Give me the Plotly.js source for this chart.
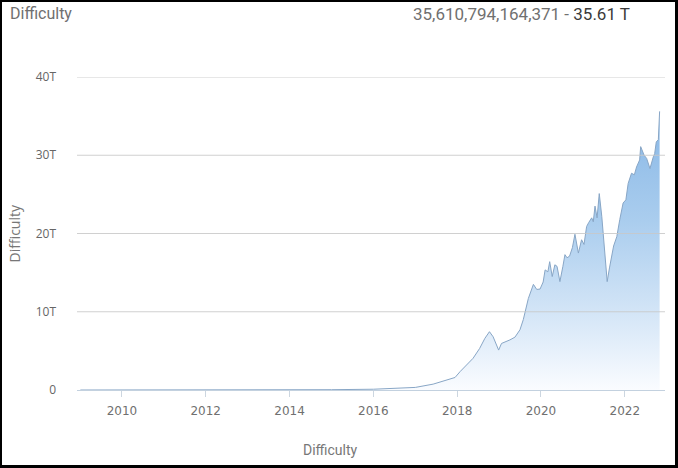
<!DOCTYPE html>
<html>
<head>
<meta charset="utf-8">
<script src="https://cdn.plot.ly/plotly-3.0.1.min.js"></script>
<style>
  html, body { margin: 0; padding: 0; background: #fff; }
  #wrap { position: relative; width: 678px; height: 468px; }
  #chart { width: 678px; height: 468px; }
  #frame { position: absolute; left: 0; top: 0; width: 678px; height: 468px; box-sizing: border-box;
           border-style: solid; border-color: #000; border-width: 2px 3px 3px 2px; pointer-events: none; }
</style>
</head>
<body>
<div id="wrap"><div id="chart"></div><div id="frame"></div></div>
<script>
// Bitcoin mining difficulty (values in trillions, T)
const dates = [
  '2009-01-03','2010-07-01','2012-01-01','2013-07-01','2014-01-01','2015-01-01','2016-01-01','2016-08-15',
  '2017-01-01','2017-06-05','2017-10-30','2017-12-13','2018-01-26','2018-03-25','2018-05-19','2018-07-15',
  '2018-08-30','2018-10-09','2018-11-10','2018-12-28','2019-01-22','2019-04-05','2019-05-19','2019-07-02',
  '2019-07-31','2019-09-13','2019-10-27','2019-11-25','2019-12-24','2020-01-20','2020-02-06','2020-03-01','2020-03-17','2020-04-08',
  '2020-05-01','2020-05-20','2020-06-14','2020-07-10','2020-07-28','2020-08-15','2020-09-06','2020-10-01','2020-10-23','2020-11-22','2020-12-20','2021-01-10','2021-02-02',
  '2021-02-20','2021-03-18','2021-04-01','2021-04-16','2021-05-04','2021-05-23','2021-06-14','2021-06-28','2021-07-31','2021-08-20','2021-09-09',
  '2021-09-25','2021-10-23','2021-11-05','2021-11-18','2021-12-17','2022-01-10','2022-01-30','2022-02-28','2022-03-25','2022-04-13','2022-05-10','2022-05-19','2022-06-18','2022-07-10',
  '2022-08-08','2022-08-20','2022-09-06','2022-09-18','2022-10-02','2022-10-20','2022-10-24','2022-10-31'
];
const difficultyT = [
  0, 0, 0, 0.00002, 0.0014, 0.04, 0.1, 0.25,
  0.33, 0.75, 1.37, 1.6, 2.35, 3.2, 4.05, 5.3,
  6.6, 7.45, 6.8, 5.1, 5.95, 6.4, 6.75, 7.7,
  9.0, 11.7, 13.5, 12.85, 12.9, 13.8, 15.35, 15.1, 16.4, 14.5,
  16.0, 15.8, 13.85, 15.8, 17.3, 16.9, 17.1, 18.2, 19.9, 17.5, 19.2, 18.6, 20.9,
  21.4, 22.0, 21.5, 23.5, 22.0, 25.1, 22.2, 20.0, 13.85, 15.6, 17.1,
  18.4, 19.6, 21.0, 21.8, 23.9, 24.3, 26.4, 27.7, 27.5, 28.5, 29.4, 31.1, 30.0, 29.6,
  28.3, 29.0, 29.8, 30.2, 31.7, 32.0, 33.2, 35.61
];
const yTickVals = [0, 10, 20, 30, 40];
const yTickText = ['0', '10T', '20T', '30T', '40T'];
const xTickVals = ['2010-01-01','2012-01-01','2014-01-01','2016-01-01','2018-01-01','2020-01-01','2022-01-01'];
const xTickText = ['2010','2012','2014','2016','2018','2020','2022'];
const chartTitle = 'Difficulty';
const latestFull = '35,610,794,164,371';
const latestShort = '35.61 T';
const axisTitle = 'Difficulty';

const trace = {
  x: dates, y: difficultyT, type: 'scatter', mode: 'lines',
  line: { color: 'rgb(136,166,198)', width: 1 },
  fill: 'tozeroy',
  fillgradient: {
    type: 'vertical', start: 0, stop: 36,
    colorscale: [[0, 'rgb(250,252,255)'], [0.3, 'rgb(208,227,246)'], [0.6, 'rgb(170,205,238)'], [1, 'rgb(134,182,230)']]
  },
  hoverinfo: 'x+y'
};

const gridShapes = yTickVals.filter(v => v > 0).map(v => ({
  type: 'line', xref: 'paper', yref: 'y', x0: 0, x1: 1, y0: v, y1: v,
  line: { color: 'rgba(200,200,200,0.85)', width: 1 }, layer: 'above'
}));

const layout = {
  width: 678, height: 468,
  margin: { l: 77, r: 13, t: 77, b: 78 },
  paper_bgcolor: '#fff', plot_bgcolor: '#fff',
  showlegend: false,
  font: { family: 'Roboto, "Open Sans", sans-serif', color: '#666', size: 12 },
  xaxis: {
    type: 'date', range: ['2008-12-05', '2022-12-17'],
    tickvals: xTickVals, ticktext: xTickText,
    ticks: 'outside', ticklen: 6, tickcolor: '#ccd6e0', tickwidth: 1,
    showgrid: false, zeroline: false,
    showline: true, linecolor: '#c3d1df', linewidth: 1,
    tickfont: { family: '"DejaVu Sans", sans-serif', size: 12, color: '#707070' },
    ticklabelstandoff: 4
  },
  yaxis: {
    range: [0, 40], tickvals: yTickVals, ticktext: yTickText,
    showgrid: false, zeroline: false, showline: false, ticks: '',
    tickfont: { family: '"Open Sans", sans-serif', size: 12, color: '#666' },
    ticklabelstandoff: 20
  },
  shapes: gridShapes,
  annotations: [
    { xref: 'paper', yref: 'paper', x: (8-77)/588, y: 1 + 63/313, xanchor: 'left', yanchor: 'middle',
      text: chartTitle, showarrow: false, font: { family: 'Roboto, sans-serif', size: 16, color: '#707070' } },
    { xref: 'paper', yref: 'paper', x: (632-77)/588, y: 1 + 63/313, xanchor: 'right', yanchor: 'middle',
      text: latestFull + ' - <span style="color:#3a3a3a">' + latestShort + '</span>', showarrow: false,
      font: { family: 'Roboto, sans-serif', size: 17, color: '#707070' } },
    { xref: 'paper', yref: 'paper', x: (330-77)/588, y: -(450-390)/313, xanchor: 'center', yanchor: 'middle',
      text: axisTitle, showarrow: false, font: { family: 'Roboto, sans-serif', size: 14, color: '#777' } },
    { xref: 'paper', yref: 'paper', x: (14-77)/588, y: 0.5, xanchor: 'center', yanchor: 'middle', textangle: -90,
      text: axisTitle, showarrow: false, font: { family: '"Open Sans", sans-serif', size: 14, color: '#777' } }
  ]
};

Plotly.newPlot('chart', [trace], layout, { staticPlot: true, displayModeBar: false });
</script>
</body>
</html>
